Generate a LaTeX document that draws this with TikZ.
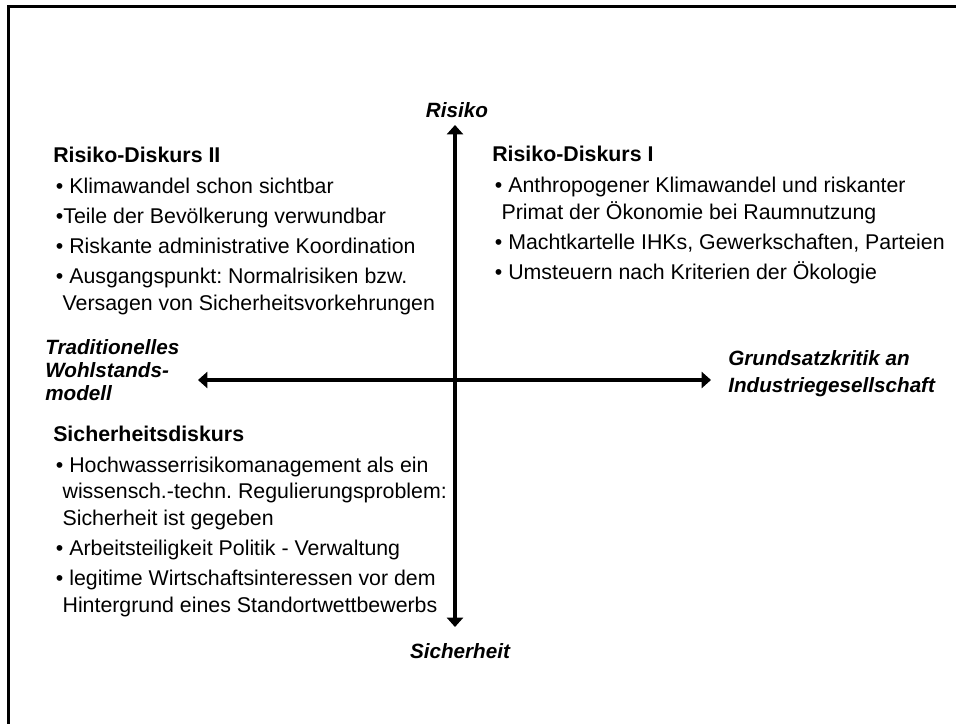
\documentclass[tikz,border=0pt]{standalone}
\usepackage{fontspec}
\setmainfont{Liberation Sans}
\usetikzlibrary{arrows.meta}
\frenchspacing
\newcommand{\bul}{\hspace*{2pt}•}
\newcommand{\cont}{\hspace*{7pt}}
\tikzset{
  axis/.style={line width=2.5pt, {Triangle[width=12pt,length=7pt]}-{Triangle[width=12pt,length=7pt]}},
  axislabel/.style={font=\fontsize{15.5}{17}\selectfont\bfseries\itshape, inner sep=0pt, align=left},
  block/.style={font=\fontsize{16}{20}\selectfont, inner sep=0pt, align=left, anchor=base west},
}
\begin{document}
\begin{tikzpicture}[x=0.75pt, y=-0.75pt]
    \useasboundingbox (0,0) rectangle (956,724);
    % frame
    \draw[line width=2.25pt] (8,724) -- (8,7) -- (956,7);

    % axes
    \coordinate (top) at (455,125);
    \coordinate (bottom) at (455,627);
    \coordinate (left) at (198,380);
    \coordinate (right) at (711,380);
    \draw[axis] (top) -- (bottom);
    \draw[axis] (left) -- (right);

    % axis labels (base = last line)
    \node[axislabel] (risiko) at (457,110) {Risiko};
    \node[axislabel] (sicherheit) at (460,651) {Sicherheit};
    \node[axislabel, anchor=base west] (trad) at (45,400) {Traditionelles\\Wohlstands-\\modell};
    \node[axislabel, anchor=base west, font=\fontsize{15.5}{20}\selectfont\bfseries\itshape] (grund) at (728,392) {Grundsatzkritik an\\Industriegesellschaft};

    % quadrants
    \node[block] (rd2) at (53,310) {\textbf{Risiko-Diskurs II}\\[3pt]
        \bul\ Klimawandel schon sichtbar\\[2.5pt]
        \bul Teile der Bevölkerung verwundbar\\[2.5pt]
        \bul\ Riskante administrative Koordination\\[2.5pt]
        \bul\ Ausgangspunkt: Normalrisiken bzw.\\
        \cont Versagen von Sicherheitsvorkehrungen};
    \node[block] (rd1) at (492,279) {\textbf{Risiko-Diskurs I}\\[3pt]
        \bul\ Anthropogener Klimawandel und riskanter\\
        \cont Primat der Ökonomie bei Raumnutzung\\[2.5pt]
        \bul\ Machtkartelle IHKs, Gewerkschaften, Parteien\\[2.5pt]
        \bul\ Umsteuern nach Kriterien der Ökologie};
    \node[block] (sich) at (53,612) {\textbf{Sicherheitsdiskurs}\\[3pt]
        \bul\ Hochwasserrisikomanagement als ein\\
        \cont wissensch.-techn. Regulierungsproblem:\\
        \cont Sicherheit ist gegeben\\[2.5pt]
        \bul\ Arbeitsteiligkeit Politik - Verwaltung\\[2.5pt]
        \bul\ legitime Wirtschaftsinteressen vor dem\\
        \cont Hintergrund eines Standortwettbewerbs};
\end{tikzpicture}
\end{document}
